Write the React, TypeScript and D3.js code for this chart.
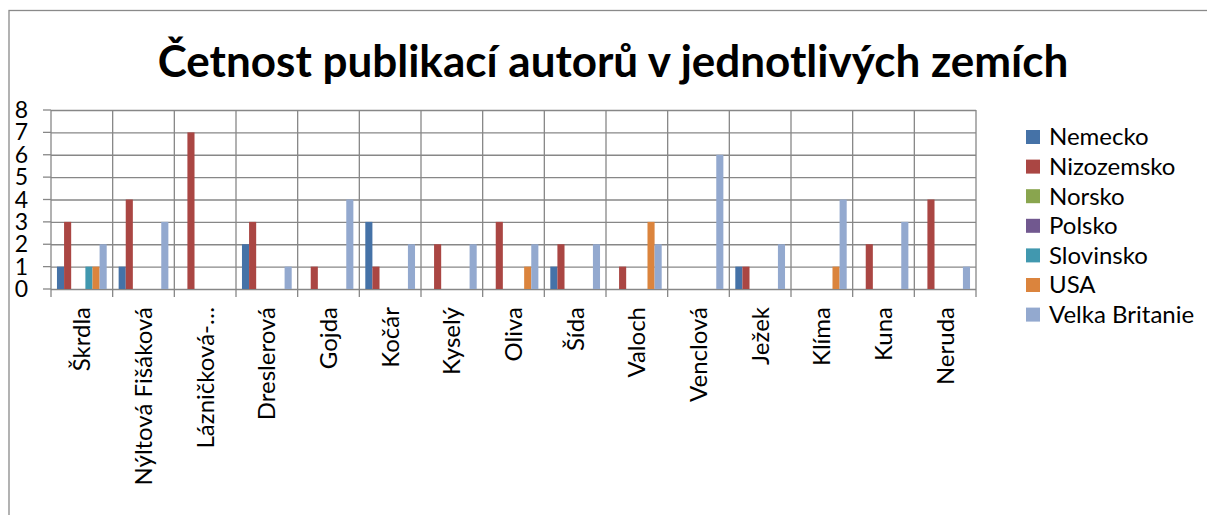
import * as d3 from "d3";
import React from "react";

const authors = [
  "Škrdla",
  "Nýltová Fišáková",
  "Lázničková-…",
  "Dreslerová",
  "Gojda",
  "Kočár",
  "Kyselý",
  "Oliva",
  "Šída",
  "Valoch",
  "Venclová",
  "Ježek",
  "Klíma",
  "Kuna",
  "Neruda",
];

const countries = ["Nemecko", "Nizozemsko", "Norsko", "Polsko", "Slovinsko", "USA", "Velka Britanie"];

// one array per country, in the order of the authors
const nemecko = [1, 1, 0, 2, 0, 3, 0, 0, 1, 0, 0, 1, 0, 0, 0];
const nizozemsko = [3, 4, 7, 3, 1, 1, 2, 3, 2, 1, 0, 1, 0, 2, 4];
const norsko = [0, 0, 0, 0, 0, 0, 0, 0, 0, 0, 0, 0, 0, 0, 0];
const polsko = [0, 0, 0, 0, 0, 0, 0, 0, 0, 0, 0, 0, 0, 0, 0];
const slovinsko = [1, 0, 0, 0, 0, 0, 0, 0, 0, 0, 0, 0, 0, 0, 0];
const usa = [1, 0, 0, 0, 0, 0, 0, 1, 0, 3, 0, 0, 1, 0, 0];
const velkaBritanie = [2, 3, 0, 1, 4, 2, 2, 2, 2, 2, 6, 2, 4, 3, 1];

const yTicks = [0, 1, 2, 3, 4, 5, 6, 7, 8];

const colours = ["#4572A7", "#AA4643", "#89A54E", "#71588F", "#4198AF", "#DB843D", "#93A9CF"];

const title = "Četnost publikací autorů v jednotlivých zemích";

export default function App() {
  const ref = React.useRef<SVGSVGElement>(null);

  React.useEffect(() => {
    const W = 1207;
    const H = 515;
    const margin = { left: 51, right: 231, top: 110, bottom: 226 };
    const width = W - margin.left - margin.right;
    const height = H - margin.top - margin.bottom;
    const font = "Lato, 'Open Sans', sans-serif";
    const gridColour = "#878787";

    const series = [nemecko, nizozemsko, norsko, polsko, slovinsko, usa, velkaBritanie];

    const root = d3.select(ref.current);
    root.selectAll("*").remove();

    // outer frame of the chart (right and bottom edges fall outside the page)
    root
      .append("rect")
      .attr("x", 9)
      .attr("y", 10.5)
      .attr("width", 1400)
      .attr("height", 800)
      .attr("fill", "white")
      .attr("stroke", "#8a8a8a")
      .attr("stroke-width", 1.3);

    root
      .append("text")
      .attr("x", 613)
      .attr("y", 77)
      .attr("text-anchor", "middle")
      .style("font-family", font)
      .style("font-weight", "bold")
      .style("font-size", "44px")
      .attr("fill", "#000")
      .text(title);

    const svg = root.append("g").attr("transform", `translate(${margin.left}, ${margin.top})`);

    const x0 = d3.scaleBand<string>().domain(authors).range([0, width]).padding(0);
    const x1 = d3
      .scaleBand<number>()
      .domain(d3.range(countries.length))
      .range([0, x0.bandwidth()])
      .paddingInner(0)
      .paddingOuter(0.84);
    const y = d3.scaleLinear().domain([0, 8]).range([height, 0]);

    // horizontal gridlines
    svg
      .append("g")
      .call(
        d3
          .axisLeft(y)
          .tickValues(yTicks)
          .tickSize(-width)
          .tickSizeOuter(0)
          .tickFormat(() => "")
      )
      .call((g) => g.select(".domain").remove())
      .call((g) => g.selectAll("line").attr("stroke", gridColour).attr("stroke-width", 1.3));

    // small ticks left of the value axis
    svg
      .append("g")
      .selectAll("line")
      .data(yTicks)
      .join("line")
      .attr("x1", -8)
      .attr("x2", 0)
      .attr("y1", (d) => y(d))
      .attr("y2", (d) => y(d))
      .attr("stroke", gridColour)
      .attr("stroke-width", 1.3);

    svg
      .append("g")
      .selectAll("text")
      .data(yTicks)
      .join("text")
      .attr("x", -23)
      .attr("y", (d) => y(d))
      .attr("dy", "0.35em")
      .attr("text-anchor", "end")
      .style("font-family", font)
      .style("font-size", "23px")
      .text((d) => d);

    // vertical gridlines at category boundaries, with ticks below the axis
    const bounds = d3.range(authors.length + 1).map((i) => i * x0.step());
    svg
      .append("g")
      .selectAll("line")
      .data(bounds)
      .join("line")
      .attr("x1", (d) => d)
      .attr("x2", (d) => d)
      .attr("y1", 0)
      .attr("y2", height + 8)
      .attr("stroke", gridColour)
      .attr("stroke-width", 1.3);

    // bars
    countries.forEach((c, ci) => {
      svg
        .append("g")
        .selectAll("rect")
        .data(series[ci].map((v, i) => ({ a: authors[i], v })))
        .join("rect")
        .attr("x", (d) => (x0(d.a) ?? 0) + (x1(ci) ?? 0))
        .attr("width", x1.bandwidth())
        .attr("y", (d) => y(d.v))
        .attr("height", (d) => height - y(d.v))
        .attr("fill", colours[ci]);
    });

    // category labels, rotated
    svg
      .append("g")
      .selectAll("text")
      .data(authors)
      .join("text")
      .attr(
        "transform",
        (d) => `translate(${(x0(d) ?? 0) + x0.bandwidth() / 2}, ${height + 18}) rotate(-90)`
      )
      .attr("dy", "0.35em")
      .attr("text-anchor", "end")
      .style("font-family", font)
      .style("font-size", "24px")
      .text((d) => d);

    // legend
    const legend = root.append("g").attr("transform", "translate(1026, 137)");
    const item = legend
      .selectAll("g")
      .data(countries)
      .join("g")
      .attr("transform", (d, i) => `translate(0, ${i * 29.6})`);
    item
      .append("rect")
      .attr("x", 0)
      .attr("y", -7)
      .attr("width", 14)
      .attr("height", 14)
      .attr("fill", (d, i) => colours[i]);
    item
      .append("text")
      .attr("x", 23)
      .attr("dy", "0.35em")
      .style("font-family", font)
      .style("font-size", "24px")
      .text((d) => d);
  }, []);

  return (
    <>
      <style>{"body{margin:0}"}</style>
      <svg ref={ref} width={1207} height={515} style={{ display: "block" }} />
    </>
  );
}
